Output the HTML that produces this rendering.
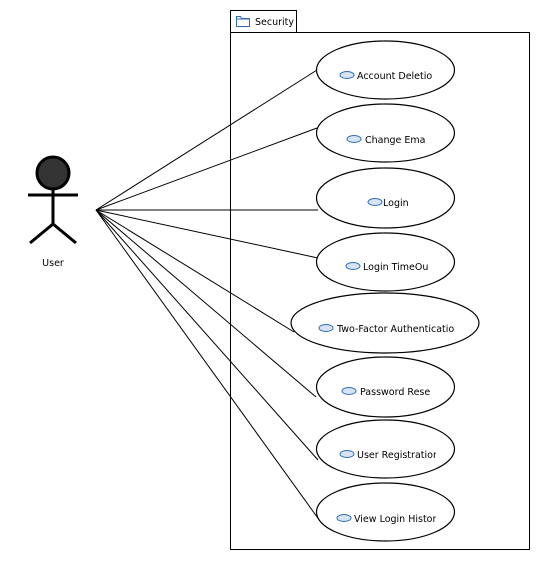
<!DOCTYPE html>
<html><head><meta charset="utf-8"><style>
html,body{margin:0;padding:0;background:#fff}
svg{display:block}
text{font-family:"DejaVu Sans","Liberation Sans",sans-serif;font-size:9.5px;fill:#000}
</style></head><body>
<svg width="541" height="561" viewBox="0 0 541 561" xmlns="http://www.w3.org/2000/svg">
<defs>
<clipPath id="c1"><rect x="300" y="55" width="133" height="30"/></clipPath>
<clipPath id="c2"><rect x="300" y="120" width="126" height="30"/></clipPath>
<clipPath id="c4"><rect x="300" y="250" width="128" height="30"/></clipPath>
<clipPath id="c5"><rect x="290" y="310" width="165" height="30"/></clipPath>
<clipPath id="c6"><rect x="300" y="375" width="130" height="30"/></clipPath>
<clipPath id="c7"><rect x="300" y="440" width="136" height="30"/></clipPath>
<clipPath id="c8"><rect x="300" y="500" width="136" height="30"/></clipPath>
</defs>
<!-- package -->
<rect x="230.5" y="10.5" width="66" height="22" fill="#fff" stroke="#000"/>
<rect x="230.5" y="32.5" width="299" height="517" fill="#fff" stroke="#000"/>
<path d="M236.5 16.5 h4 l1 2 h8 v8 h-13 z" fill="#fff" stroke="#2f6db5"/>
<line x1="236.5" y1="19" x2="249.5" y2="19" stroke="#2f6db5"/>
<text x="255" y="25">Security</text>
<!-- connectors -->
<g stroke="#000" stroke-width="1" fill="none">
<line x1="96" y1="210" x2="317" y2="70"/>
<line x1="96" y1="210" x2="317" y2="128"/>
<line x1="96" y1="210" x2="318" y2="210"/>
<line x1="96" y1="210" x2="318" y2="258"/>
<line x1="96" y1="210" x2="294" y2="332"/>
<line x1="96" y1="210" x2="316" y2="397"/>
<line x1="96" y1="210" x2="318" y2="460"/>
<line x1="96" y1="210" x2="320" y2="521"/>
</g>
<!-- actor -->
<circle cx="53" cy="173" r="16" fill="#333" stroke="#000" stroke-width="3"/>
<g stroke="#000" stroke-width="3" fill="none">
<line x1="53" y1="189" x2="53" y2="224"/>
<line x1="28" y1="195" x2="78" y2="195"/>
<line x1="53" y1="224" x2="30" y2="243"/>
<line x1="53" y1="224" x2="76" y2="243"/>
</g>
<text x="53" y="266" text-anchor="middle">User</text>
<!-- ellipses -->
<g fill="#fff" stroke="#000" stroke-width="1.2">
<ellipse cx="385.5" cy="70" rx="69" ry="29"/>
<ellipse cx="385.5" cy="133" rx="69" ry="29"/>
<ellipse cx="385.5" cy="198" rx="69" ry="30"/>
<ellipse cx="385.5" cy="262" rx="69" ry="29"/>
<ellipse cx="385" cy="323" rx="94" ry="30"/>
<ellipse cx="385.5" cy="387" rx="69" ry="30"/>
<ellipse cx="385.5" cy="449" rx="69" ry="29"/>
<ellipse cx="385.5" cy="512" rx="69" ry="29"/>
</g>
<g fill="#d6e4f5" stroke="#2f6db5" stroke-width="1">
<ellipse cx="347" cy="75" rx="7" ry="3.5"/>
<ellipse cx="354" cy="139" rx="7" ry="3.5"/>
<ellipse cx="375" cy="202" rx="7" ry="3.5"/>
<ellipse cx="353" cy="266" rx="7" ry="3.5"/>
<ellipse cx="326" cy="328" rx="7" ry="3.5"/>
<ellipse cx="349" cy="391" rx="7" ry="3.5"/>
<ellipse cx="347" cy="454" rx="7" ry="3.5"/>
<ellipse cx="344" cy="518" rx="7" ry="3.5"/>
</g>
<text x="357" y="79" clip-path="url(#c1)">Account Deletion</text>
<text x="365" y="143" clip-path="url(#c2)">Change Email</text>
<text x="383" y="206">Login</text>
<text x="363" y="270" clip-path="url(#c4)">Login TimeOut</text>
<text x="337" y="332" clip-path="url(#c5)">Two-Factor Authentication</text>
<text x="360" y="395" clip-path="url(#c6)">Password Reset</text>
<text x="357" y="458" clip-path="url(#c7)">User Registration</text>
<text x="354" y="522" clip-path="url(#c8)">View Login History</text>
</svg>
</body></html>
